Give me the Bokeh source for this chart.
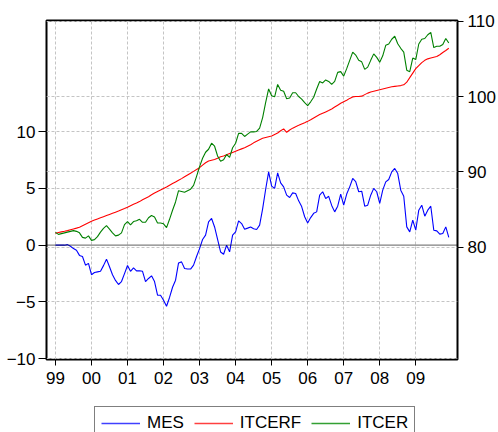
from bokeh.plotting import figure
from bokeh.layouts import column
from bokeh.models import Range1d, LinearAxis, FixedTicker, Grid, Span, Legend, LegendItem
from bokeh.embed import file_html
from bokeh.resources import INLINE

# monthly observations 1999M01 .. 2009M12 (index 0..131)
months = list(range(132))

mes = [0.0, 0.0, 0.0, 0.0, 0.05, -0.1, -0.3, -0.45, -0.9, -1.0,
       -1.76, -1.6, -2.6, -2.4, -2.35, -2.3, -1.8, -1.23, -1.9, -2.6,
       -3.1, -3.46, -3.2, -2.5, -1.79, -2.3, -2.0, -2.26, -2.25, -2.3,
       -3.2, -2.93, -2.7, -3.2, -4.4, -4.4, -4.84, -5.37, -4.6, -3.7,
       -3.08, -1.56, -1.47, -2.05, -2.1, -2.1, -1.76, -1.0, -0.3, 0.5,
       0.88, 2.05, 2.35, 1.6, 0.5, -0.6, -0.8, 0.0, -0.59, 0.88,
       1.17, 2.14, 1.9, 1.41, 1.5, 1.6, 1.45, 1.38, 1.76, 3.2,
       4.9, 6.45, 5.2, 5.0, 6.37, 5.48, 5.13, 4.4, 4.2, 4.6,
       4.55, 3.9, 3.4, 2.5, 1.96, 2.43, 2.8, 2.93, 4.4, 4.7,
       4.1, 4.3, 3.5, 2.93, 3.43, 4.5, 3.52, 4.5, 5.13, 5.87,
       5.6, 4.7, 4.75, 3.43, 3.52, 4.4, 5.0, 4.7, 3.67, 4.84,
       5.57, 5.78, 6.45, 6.75, 6.3, 4.84, 4.31, 1.61, 1.17, 2.2,
       1.32, 3.08, 3.52, 2.55, 3.08, 3.43, 1.32, 1.26, 0.97, 1.03,
       1.61, 0.68]

itcerf = [81.85, 81.94, 82.03, 82.11, 82.2, 82.31, 82.42, 82.53, 82.65, 82.85,
          83.05, 83.25, 83.45, 83.6, 83.75, 83.9, 84.05, 84.2, 84.35, 84.5,
          84.65, 84.8, 84.97, 85.13, 85.3, 85.5, 85.7, 85.85, 86.05, 86.3,
          86.5, 86.7, 86.95, 87.2, 87.4, 87.6, 87.8, 88.0, 88.22, 88.44,
          88.66, 88.88, 89.1, 89.34, 89.58, 89.82, 90.06, 90.3, 90.55, 90.9,
          91.2, 91.45, 91.55, 91.65, 91.8, 92.0, 92.1, 92.26, 92.42, 92.58,
          92.74, 92.9, 93.05, 93.2, 93.4, 93.6, 93.85, 94.05, 94.25, 94.45,
          94.55, 94.65, 94.75, 94.95, 95.15, 95.45, 95.7, 95.25, 95.55, 95.8,
          96.0, 96.17, 96.35, 96.52, 96.7, 96.92, 97.15, 97.38, 97.6, 97.78,
          97.96, 98.14, 98.35, 98.6, 98.85, 99.1, 99.3, 99.5, 99.75, 99.95,
          100.0, 100.0, 100.05, 100.25, 100.45, 100.6, 100.7, 100.8, 100.9, 101.0,
          101.1, 101.2, 101.3, 101.35, 101.4, 101.45, 101.55, 101.9, 102.5, 103.1,
          103.7, 104.1, 104.5, 104.8, 105.0, 105.1, 105.2, 105.3, 105.55, 105.85,
          106.1, 106.4]

itcer = [81.97, 81.7, 81.8, 81.9, 82.0, 82.1, 82.2, 82.1, 81.9, 81.3,
         81.2, 81.5, 80.9, 81.0, 81.4, 82.0, 82.5, 82.86, 82.4, 81.9,
         81.5, 81.6, 81.9, 83.0, 83.4, 82.95, 83.4, 83.5, 83.7, 83.3,
         83.3, 83.9, 84.2, 84.0, 83.2, 83.2, 83.1, 82.6, 83.7, 84.9,
         86.0, 87.5, 87.4, 87.3, 87.5, 87.7, 88.2, 89.4, 90.7, 91.8,
         92.6, 93.0, 93.8, 93.4, 92.1, 91.4, 91.6, 92.3, 91.93, 93.2,
         93.8, 95.1, 95.1, 94.7, 95.0, 95.3, 95.3, 95.36, 95.8, 97.2,
         99.2, 101.0, 100.1, 99.96, 101.6, 100.84, 100.7, 99.7, 99.8, 100.5,
         100.5, 100.0, 99.66, 99.2, 98.8, 99.3, 99.9, 101.0, 102.0, 101.8,
         102.2, 102.0, 101.6, 102.0, 103.2, 103.3, 102.7, 103.7, 104.8, 105.9,
         105.5, 104.8, 104.6, 103.6, 103.9, 104.8, 105.66, 105.2, 104.56, 105.4,
         106.8, 106.97, 107.6, 108.0, 107.0, 106.4, 105.9, 103.5, 103.3, 105.1,
         104.9, 106.97, 107.6, 107.7, 108.2, 108.5, 106.5, 106.67, 106.67, 106.9,
         107.7, 107.1]

x_tick_pos = [0, 12, 24, 36, 48, 60, 72, 84, 96, 108, 120]
x_tick_labels = ["99", "00", "01", "02", "03", "04", "05", "06", "07", "08", "09"]
left_ticks = [-10, -5, 0, 5, 10]
right_ticks = [80, 90, 100, 110]
series_names = ["MES", "ITCERF", "ITCER"]
series_colors = ["#0000ff", "#ff0000", "#008000"]
legend_colors = ["#4040ff", "#ff4040", "#33a033"]

FONT = "Liberation Sans"
FS = "17px"
GRID_COLOR = "#c4c4c4"
GRID_DASH = "3 2"

p = figure(width=498, height=390, output_backend="svg", toolbar_location=None,
           x_range=Range1d(-2.98, 133.9), y_range=Range1d(-10.06, 19.77),
           min_border_left=46, min_border_right=39, min_border_top=20,
           min_border_bottom=31)
p.extra_y_ranges = {"right": Range1d(65.09, 110.09)}
p.background_fill_color = "white"
p.border_fill_color = "white"
p.outline_line_color = "black"
p.outline_line_width = 2
p.outline_line_alpha = 1.0

# x axis
xa = p.xaxis[0]
xa.ticker = FixedTicker(ticks=x_tick_pos)
xa.major_label_overrides = {pos: lab for pos, lab in zip(x_tick_pos, x_tick_labels)}
xa.minor_tick_line_color = None
xa.major_tick_in = 0
xa.major_tick_out = 6
xa.major_tick_line_color = "black"
xa.axis_line_color = None
xa.major_label_standoff = 6
xa.major_label_text_font = FONT
xa.major_label_text_font_size = FS
xa.major_label_text_color = "black"

# left axis
ya = p.yaxis[0]
ya.ticker = FixedTicker(ticks=left_ticks)
ya.minor_tick_line_color = None
ya.major_tick_in = 0
ya.major_tick_out = 8
ya.major_tick_line_color = "black"
ya.axis_line_color = None
ya.major_label_standoff = 3
ya.major_label_text_font = FONT
ya.major_label_text_font_size = FS
ya.major_label_text_color = "black"

# right axis
ra = LinearAxis(y_range_name="right", ticker=FixedTicker(ticks=right_ticks))
ra.minor_tick_line_color = None
ra.major_tick_in = 0
ra.major_tick_out = 6
ra.major_tick_line_color = "black"
ra.axis_line_color = None
ra.major_label_standoff = 4
ra.major_label_text_font = FONT
ra.major_label_text_font_size = FS
ra.major_label_text_color = "black"
p.add_layout(ra, "right")

# grids
p.xgrid.ticker = FixedTicker(ticks=x_tick_pos)
p.xgrid.grid_line_color = GRID_COLOR
p.xgrid.grid_line_dash = GRID_DASH
p.ygrid.ticker = FixedTicker(ticks=[t for t in left_ticks if t != 0])
p.ygrid.grid_line_color = GRID_COLOR
p.ygrid.grid_line_dash = GRID_DASH
rgrid = Grid(dimension=1, ticker=FixedTicker(ticks=right_ticks), y_range_name="right",
             grid_line_color=GRID_COLOR, grid_line_dash=GRID_DASH)
p.add_layout(rgrid)

zero = Span(location=0, dimension="width", line_color="black", line_dash="1 1", line_width=1.3)
p.add_layout(zero)

p.line(months, mes, line_color=series_colors[0], line_width=1.1)
p.line(months, itcerf, line_color=series_colors[1], line_width=1.1, y_range_name="right")
p.line(months, itcer, line_color=series_colors[2], line_width=1.1, y_range_name="right")

# legend strip below the chart (proxy renderers lie outside its visible range);
# the column aligns this strip's frame with the chart frame (left edge at x=46)
lg = figure(width=498, height=42, output_backend="svg", toolbar_location=None,
            x_range=Range1d(0, 1), y_range=Range1d(0, 1),
            x_axis_type=None, y_axis_type=None,
            min_border=0, min_border_left=0, min_border_right=0,
            min_border_top=0, min_border_bottom=0)
lg.outline_line_color = None
lg.background_fill_color = "white"
lg.border_fill_color = "white"
lg.xgrid.visible = False
lg.ygrid.visible = False
items = []
for name, col in zip(series_names, legend_colors):
    r = lg.line(x=[-5, -4], y=[-5, -4], line_color=col, line_width=1.5)
    items.append(LegendItem(label=name, renderers=[r]))

legend = Legend(items=items, orientation="horizontal", location=(48, -8),
                padding=6, spacing=10, glyph_width=39, glyph_height=16,
                label_height=16, label_standoff=7, margin=0,
                border_line_color="black", border_line_width=1,
                background_fill_color="white", background_fill_alpha=1.0,
                label_text_font=FONT, label_text_font_size=FS,
                label_text_color="black")
lg.add_layout(legend, "center")

layout = column(p, lg, spacing=0)
open("out.html", "w").write(file_html(layout, INLINE))
